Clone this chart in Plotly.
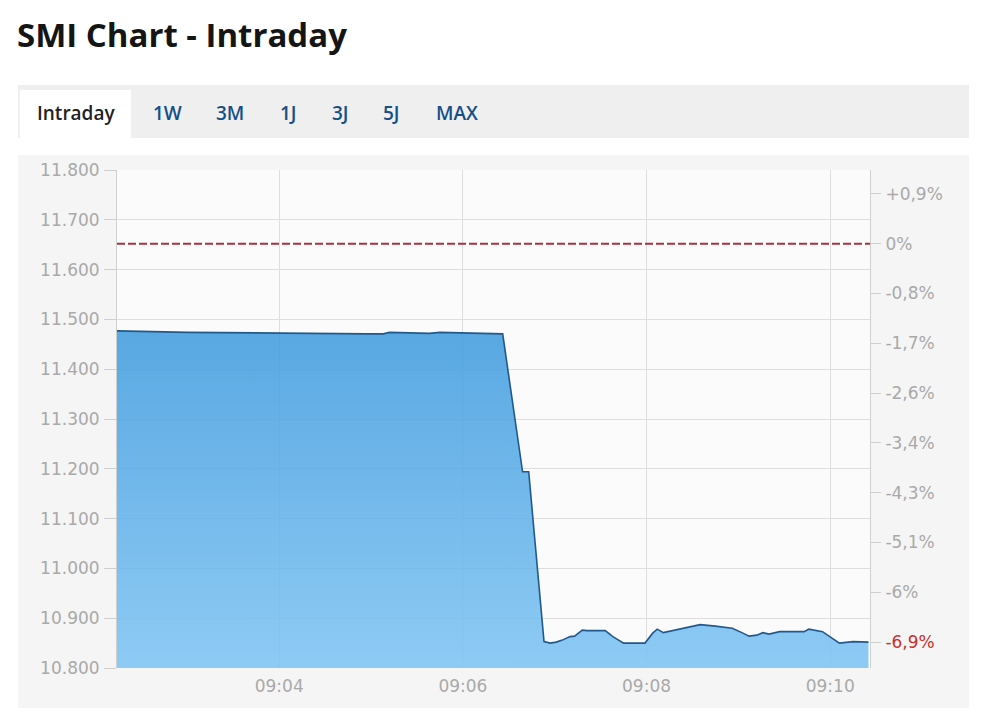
import plotly.graph_objects as go

# ---- data ----
day = "2024-01-01 "
times = ["09:02:14","09:03:00","09:04:57","09:05:08","09:05:12","09:05:38","09:05:45",
         "09:06:16","09:06:26","09:06:39","09:06:43","09:06:53","09:06:57","09:07:01",
         "09:07:05","09:07:10","09:07:13","09:07:18","09:07:21","09:07:33","09:07:38",
         "09:07:45","09:07:59","09:08:04","09:08:07","09:08:11","09:08:19","09:08:30",
         "09:08:35","09:08:45","09:08:56","09:09:03","09:09:07","09:09:12","09:09:16",
         "09:09:20","09:09:27","09:09:43","09:09:46","09:09:55","09:10:00","09:10:06",
         "09:10:15","09:10:21","09:10:25"]
values = [11477,11474,11471,11471,11474,11472,11474,11472,11471,11194,11194,10853,
          10850,10852,10856,10863,10864,10876,10875,10875,10863,10850,10850,10870,
          10878,10871,10876,10884,10887,10884,10880,10870,10864,10866,10871,10868,
          10873,10873,10878,10873,10863,10850,10853,10853,10852]
prev_close = 11652

left_tickvals = [10800,10900,11000,11100,11200,11300,11400,11500,11600,11700,11800]
left_ticktext = ["10.800","10.900","11.000","11.100","11.200","11.300","11.400",
                 "11.500","11.600","11.700","11.800"]
right_tickvals = [11752,11652,11552,11452,11352,11252,11152,11052,10952,10852]
right_ticktext = ["+0,9%","0%","-0,8%","-1,7%","-2,6%","-3,4%","-4,3%","-5,1%","-6%",
                  "<span style='color:#c9302c'>-6,9%</span>"]
x_ticks = ["09:04","09:06","09:08","09:10"]
tabs = ["Intraday","1W","3M","1J","3J","5J","MAX"]
tab_px = [76,167,230,288,340,391,457]

xs = [day + t for t in times]

OFF = 8  # page body margin
W, H = 994 - 2 * OFF, 727 - 2 * OFF
L, R, T, B = 117, 870, 170, 668
def px(x):
    return (x - L) / (R - L)
def py(y):
    return (B - y) / (B - T)

fig = go.Figure()
fig.add_trace(go.Scatter(
    x=xs, y=values, mode="lines",
    line=dict(color="#22598c", width=1.6),
    fill="tozeroy",
    fillgradient=dict(type="vertical", start=10800, stop=11480,
                      colorscale=[[0, "rgba(124,195,243,0.86)"],
                                  [1, "rgba(62,154,222,0.86)"]]),
    hoverinfo="skip", showlegend=False))
fig.add_trace(go.Scatter(x=[xs[0]], y=[values[0]], mode="none", yaxis="y2",
                         hoverinfo="skip", showlegend=False))

tickfont = dict(family="DejaVu Sans", size=17, color="#a9a9a9")
fig.update_layout(
    width=W, height=H,
    margin=dict(l=L - OFF, r=(W + OFF) - R, t=T - OFF, b=(H + OFF) - B),
    paper_bgcolor="white", plot_bgcolor="rgba(0,0,0,0)",
    xaxis=dict(range=[day + "09:02:14", day + "09:10:26"], type="date",
               tickvals=[day + t for t in x_ticks], ticktext=x_ticks,
               showgrid=True, gridcolor="#dedede", gridwidth=1,
               zeroline=False, showline=False, ticks="", tickfont=tickfont,
               ticklabelstandoff=6),
    yaxis=dict(range=[10800, 11800], tickvals=left_tickvals, ticktext=left_ticktext,
               showgrid=True, gridcolor="#dedede", gridwidth=1, zeroline=False,
               showline=True, linecolor="#cfcfcf", linewidth=1,
               ticks="outside", ticklen=12, tickcolor="#cfcfcf", tickfont=tickfont,
               ticklabelstandoff=1),
    yaxis2=dict(range=[10800, 11800], overlaying="y", side="right",
                tickvals=right_tickvals, ticktext=right_ticktext,
                showgrid=False, zeroline=False, showline=True, linecolor="#cfcfcf",
                ticks="outside", ticklen=10, tickcolor="#cfcfcf", tickfont=tickfont,
                ticklabelstandoff=1),
)

shapes = [
    # chart panel
    dict(type="rect", xref="paper", yref="paper", x0=px(18), x1=px(969),
         y0=py(708), y1=py(155), fillcolor="#f5f5f5", line=dict(width=0), layer="below"),
    # plot area
    dict(type="rect", xref="paper", yref="paper", x0=0, x1=1, y0=0, y1=1,
         fillcolor="#fbfbfb", line=dict(width=0), layer="below"),
    # tab bar
    dict(type="rect", xref="paper", yref="paper", x0=px(18), x1=px(969),
         y0=py(138), y1=py(85), fillcolor="#efefef", line=dict(width=0), layer="below"),
    # active tab
    dict(type="rect", xref="paper", yref="paper", x0=px(20), x1=px(131),
         y0=py(138), y1=py(90), fillcolor="#ffffff", line=dict(width=0), layer="below"),
    # previous close
    dict(type="line", xref="paper", yref="y", x0=0, x1=1, y0=prev_close, y1=prev_close,
         line=dict(color="#a83240", width=2, dash="8px,3px")),
]
fig.update_layout(shapes=shapes)

ann = [dict(text="<b>SMI Chart - Intraday</b>", xref="paper", yref="paper",
            x=px(15), y=py(35), xanchor="left", yanchor="middle", showarrow=False,
            font=dict(family="Open Sans", size=33, color="#151515"))]
for i, (t, xp) in enumerate(zip(tabs, tab_px)):
    ann.append(dict(text=t, xref="paper", yref="paper", x=px(xp), y=py(113),
                    xanchor="center", yanchor="middle", showarrow=False,
                    font=dict(family="Open Sans", size=19, weight=600,
                              color="#222222" if i == 0 else "#164f86")))
fig.update_layout(annotations=ann)

fig.write_html("out.html")
